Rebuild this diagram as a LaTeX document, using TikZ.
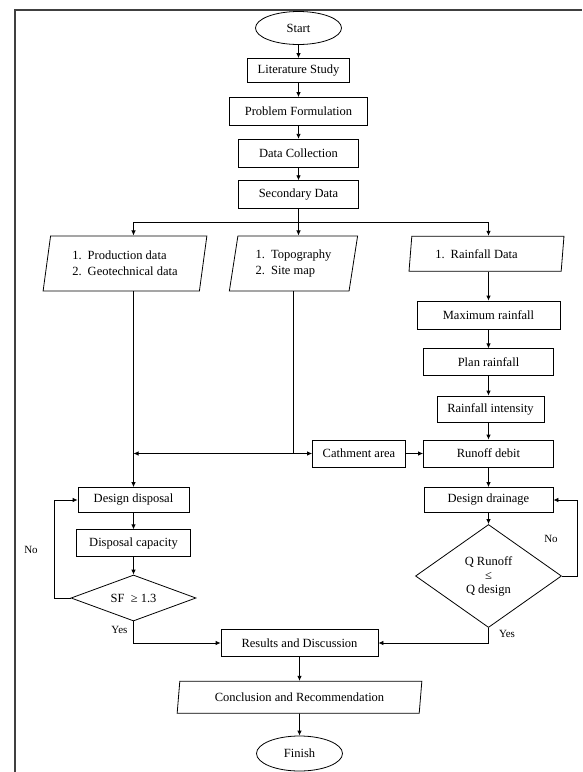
\documentclass[tikz,border=0pt]{standalone}
\usepackage{fontspec}
\setmainfont{Liberation Serif}
\usetikzlibrary{arrows.meta, shapes.geometric, positioning}
\tikzset{> = { Latex[length = 5pt, width = 4.5pt] }}
\tikzset{
	box/.style = {draw, rectangle, inner sep = 0pt},
	term/.style = {draw, ellipse, inner sep = 0pt},
	io/.style = {draw, trapezium, trapezium left angle = 78, trapezium right angle = 102, trapezium stretches = true, inner sep = 0pt},
	decide/.style = {draw, diamond, inner sep = 0pt},
	lbl/.style = {font = \fontsize{11}{13}\selectfont},
}

\begin{document}
\begin{tikzpicture}[x = 1pt, y = -1pt, font = \fontsize{12.5}{14}\selectfont, line width = 0.8pt]
		\useasboundingbox (0, 0) rectangle (582, 772);
		\draw [line width = 1.3pt, black!75] (15, 772) -- (15, 10) -- (582, 10);

		\node [term, minimum width = 86pt, minimum height = 33pt] (start) at (298.5, 28) {Start};
		\node [box, minimum width = 102pt, minimum height = 24pt] (lit) at (298.5, 70.5) {Literature Study};
		\node [box, minimum width = 138pt, minimum height = 28pt] (prob) at (298.5, 111.5) {Problem Formulation};
		\node [box, minimum width = 120pt, minimum height = 28pt] (coll) at (298.5, 153.3) {Data Collection};
		\node [box, minimum width = 120pt, minimum height = 28pt] (sec) at (298.5, 194.7) {Secondary Data};

		\node [io, minimum width = 164pt, minimum height = 55pt, align = left] (prod) at (125, 263.4) {1.\hspace{6pt}Production data\\[2pt]2.\hspace{6pt}Geotechnical data};
		\node [io, minimum width = 129pt, minimum height = 55pt, align = left] (topo) at (293.5, 263.4) {1.\hspace{6pt}Topography\\[2pt]2.\hspace{6pt}Site map};
		\node [io, minimum width = 155pt, minimum height = 35pt] (rain) at (486.5, 253.7) {1.\hspace{6pt}Rainfall Data\kern20pt};

		\node [box, minimum width = 143pt, minimum height = 28pt] (maxr) at (488.5, 315) {Maximum rainfall};
		\node [box, minimum width = 130pt, minimum height = 27pt] (plan) at (488.5, 362.3) {Plan rainfall};
		\node [box, minimum width = 107pt, minimum height = 26pt] (inten) at (490.5, 409) {Rainfall intensity};
		\node [box, minimum width = 130pt, minimum height = 27pt] (runoff) at (488.5, 453.5) {Runoff debit};
		\node [box, minimum width = 93pt, minimum height = 27pt] (catch) at (359, 453.5) {Cathment area};

		\node [box, minimum width = 111pt, minimum height = 25pt] (dispo) at (133.5, 500) {Design disposal};
		\node [box, minimum width = 114pt, minimum height = 27pt] (capac) at (133.5, 543.3) {Disposal capacity};
		\node [decide, aspect = 2.7, minimum width = 125pt, minimum height = 46pt] (sf) at (133.5, 598) {SF\ \ ≥ 1.3};

		\node [box, minimum width = 129pt, minimum height = 25pt] (drain) at (488.5, 500) {Design drainage};
		\node [decide, aspect = 1.42, minimum width = 146pt, minimum height = 103pt, align = center] (qd) at (488.5, 576) {Q Runoff\\≤\\Q design};

		\node [box, minimum width = 157pt, minimum height = 27pt] (res) at (299.5, 643) {Results and Discussion};
		\node [io, minimum width = 245pt, minimum height = 32pt] (concl) at (299.5, 697.3) {Conclusion and Recommendation};
		\node [term, minimum width = 86pt, minimum height = 35pt] (finish) at (299.5, 753.5) {Finish};

		\draw [->] (start) -- (lit);
		\draw [->] (lit) -- (prob);
		\draw [->] (prob) -- (coll);
		\draw [->] (coll) -- (sec);

		\coordinate (split) at (298.5, 222.7);
		\draw (sec) -- (split);
		\draw [->] (split) -| (dispo.north |- prod.north);
		\draw [->] (split) -- (split |- topo.north);
		\draw [->] (split) -| (maxr.north |- rain.north);

		\draw [->] (dispo.north |- prod.south) -- (dispo.north);
		\draw [->] (maxr.north |- rain.south) -- (maxr.north);
		\draw [->] (maxr) -- (plan);
		\draw [->] (plan.south) -- (plan.south |- inten.north);
		\draw [->] (inten.south -| plan.south) -- (runoff.north);

		\coordinate (join) at (topo.south |- catch.west);
		\draw [line width = 0.5pt] (topo.south) -- (join);
		\draw [->] (join) -- (catch.west);
		\draw [->] (join) -- (join -| dispo.north);
		\draw [->] (catch) -- (runoff);

		\draw [->] (runoff) -- (drain);
		\draw [->] (drain) -- (qd);
		\draw [->] (qd.east) -- ++(15.6, 0) |- (drain.east);
		\node [lbl] (no2) at (551, 539) {No};
		\draw [->] (qd.south) |- (res.east);
		\node [lbl] (yes2) at (507, 634) {Yes};

		\draw [->] (dispo) -- (capac);
		\draw [->] (capac) -- (sf);
		\draw [->] (sf.west) -- ++(-16, 0) |- (dispo.west);
		\node [lbl] (no1) at (31, 550) {No};
		\draw [->] (sf.south) |- (res.west);
		\node [lbl] (yes1) at (119.5, 630) {Yes};

		\draw [->] (res) -- (concl);
		\draw [->] (concl) -- (finish);
	\end{tikzpicture}
\end{document}
